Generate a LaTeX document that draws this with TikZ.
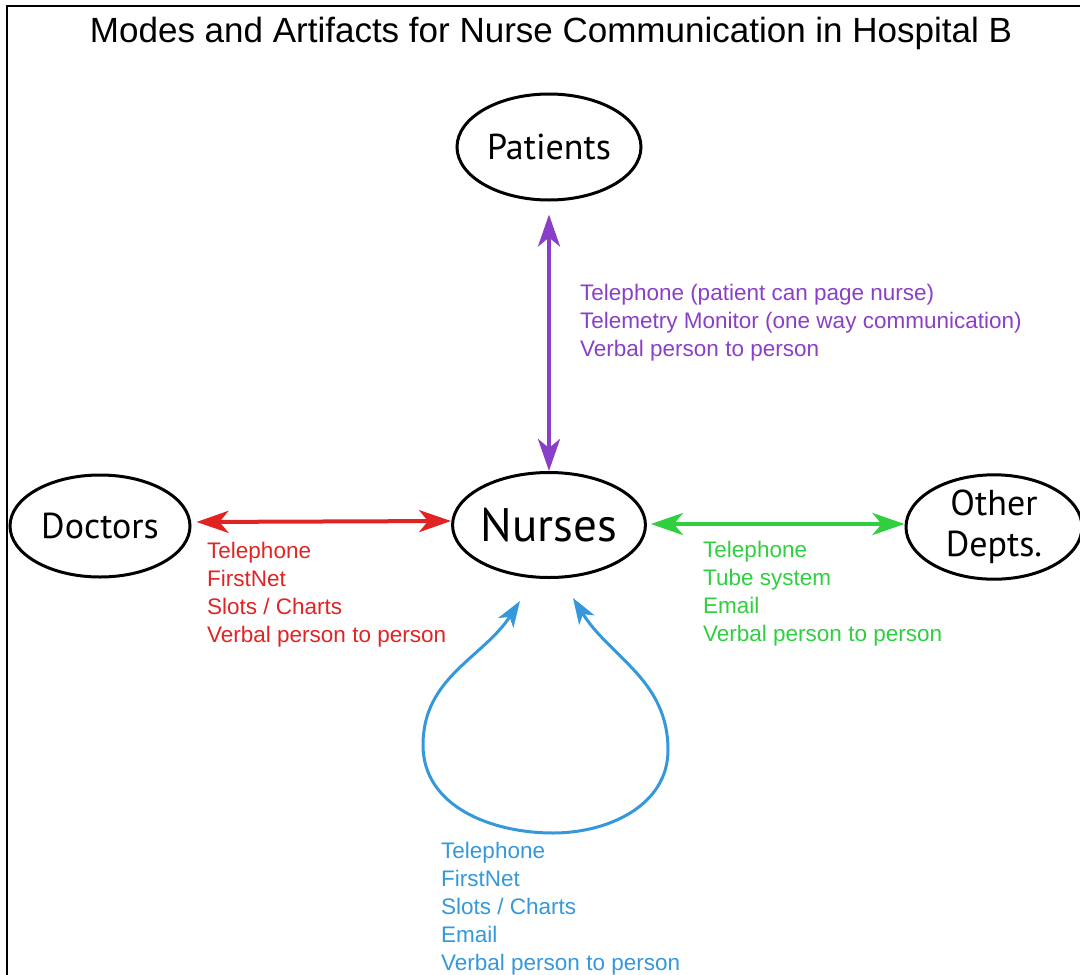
\documentclass[tikz,border=0pt]{standalone}
\usepackage{fontspec}
\setmainfont{Liberation Sans}
\newfontfamily\ovalfont{PT Sans}
\usetikzlibrary{arrows.meta,shapes.geometric}

\definecolor{patientlink}{HTML}{8A3FC8}
\definecolor{doctorlink}{HTML}{E02424}
\definecolor{deptlink}{HTML}{2FCF3F}
\definecolor{selflink}{HTML}{3498DB}

\tikzset{
  bigtip/.tip={Stealth[length=32pt,width=22pt,inset=9pt]},
  smalltip/.tip={Stealth[length=26pt,width=18pt,inset=7pt]}
}

\begin{document}
\begin{tikzpicture}[x=1pt,y=1pt,
  oval/.style={ellipse, draw=black, line width=3pt, inner sep=0pt,
    font=\ovalfont\fontsize{36}{40}\selectfont},
  link/.style={line width=4pt, bigtip-bigtip},
  selfloop/.style={line width=3pt, smalltip-smalltip},
  modes/.style={anchor=base west, inner sep=0pt, align=left,
    font=\fontsize{22.5}{28}\selectfont}]

\useasboundingbox (0,0) rectangle (1080,-975);

% frame (open to the right and bottom)
\draw[line width=2.5pt] (7,-975) -- (7,-6) -- (1080,-6);

% title
\node[anchor=base, inner sep=0pt, font=\fontsize{35}{40}\selectfont]
  (title) at (551,-42) {Modes and Artifacts for Nurse Communication in Hospital B};

% actors
\node[oval, minimum width=184pt, minimum height=106pt] (patients) at (549,-147) {Patients};
\node[oval, minimum width=183pt, minimum height=105pt,
  font=\ovalfont\fontsize{47}{50}\selectfont] (nurses) at (549,-525) {Nurses};
\node[oval, minimum width=180pt, minimum height=102pt] (doctors) at (100,-526) {Doctors};
\node[oval, minimum width=176pt, minimum height=102pt, align=center,
  font=\ovalfont\fontsize{36}{41}\selectfont] (other) at (994,-527) {Other\\Depts.};

% connectors
\draw[link, patientlink, shorten <=13pt] (patients) -- (nurses);
\draw[link, doctorlink, shorten <=5pt]
  ([yshift=4pt]doctors.east) -- ([yshift=4pt]nurses.west);
\draw[link, deptlink, shorten <=4pt]
  ([yshift=1pt]nurses.east) -- ([yshift=3pt]other.west);

% nurse-to-nurse loop
\coordinate (loopL) at ([shift={(-29pt,-76pt)}]nurses.center);
\coordinate (loopR) at ([shift={(24pt,-73pt)}]nurses.center);
\coordinate (loopW) at ([shift={(-126pt,-220pt)}]nurses.center);
\coordinate (loopS) at ([shift={(4pt,-308pt)}]nurses.center);
\coordinate (loopE) at ([shift={(119pt,-225pt)}]nurses.center);
\draw[selfloop, selflink] (loopL) to[out=237,in=90] (loopW)
  to[out=-90,in=180] (loopS) to[out=0,in=-90] (loopE)
  to[out=90,in=302] (loopR);

% communication modes (placed by the baseline of their last line)
\node[modes, text=patientlink] (patientmodes) at (580,-356)
  {Telephone (patient can page nurse)\\Telemetry Monitor (one way communication)\\Verbal person to person};
\node[modes, text=doctorlink] (doctormodes) at (207,-642)
  {Telephone\\FirstNet\\Slots / Charts\\Verbal person to person};
\node[modes, text=deptlink] (deptmodes) at (703,-641)
  {Telephone\\Tube system\\Email\\Verbal person to person};
\node[modes, text=selflink] (selfmodes) at (441,-970)
  {Telephone\\FirstNet\\Slots / Charts\\Email\\Verbal person to person};

\end{tikzpicture}
\end{document}
